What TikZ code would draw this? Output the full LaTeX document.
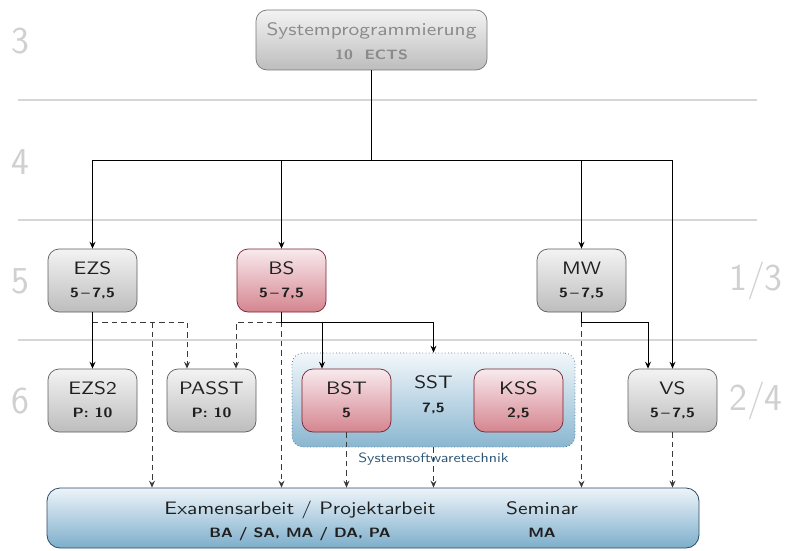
\documentclass[tikz,border=0pt]{standalone}
\usepackage{fontspec}
\setmainfont{lmsans10-regular.otf}[BoldFont=lmsans10-bold.otf, FakeStretch=1.19]
\newfontfamily\stagefont{lmsans17-regular.otf}
\usetikzlibrary{arrows.meta}

\definecolor{stageLine}{HTML}{D6D6D6}
\definecolor{stageText}{HTML}{D0D0D0}
\definecolor{grayTop}{HTML}{F3F3F3}
\definecolor{grayBot}{HTML}{BDBDBD}
\definecolor{grayEdge}{HTML}{5E5E5E}
\definecolor{redTop}{HTML}{F8EAED}
\definecolor{redBot}{HTML}{D5858F}
\definecolor{redEdge}{HTML}{7A2131}
\definecolor{blueTop}{HTML}{EDF4F9}
\definecolor{blueBot}{HTML}{7DAECB}
\definecolor{blueEdge}{HTML}{2A4B68}
\definecolor{sstEdge}{HTML}{56799A}
\definecolor{labelBlue}{HTML}{2D5676}
\definecolor{fadedText}{HTML}{8A8A8A}
\definecolor{fadedEdge}{HTML}{777777}
\definecolor{depLine}{HTML}{3A3A3A}

% one module box with its name and its credit points
\newcommand\modbox[6]{%
  \node[#4] (#1) at (#2,#3) {};
  \node[titletext] (#1-t) at ([yshift=6pt]#1.center) {#5};
  \node[subtext] (#1-s) at ([yshift=-17pt]#1.center) {#6};
}

\begin{document}
\begin{tikzpicture}[x=1pt,y=-1pt,
  stageline/.style={line width=2.6pt, draw=stageLine},
  stagenum/.style={text=stageText, font=\stagefont\fontsize{38}{40}\selectfont, inner sep=0pt},
  graybox/.style={draw=grayEdge, line width=0.7pt, rounded corners=11pt,
    top color=grayTop, bottom color=grayBot,
    minimum width=89pt, minimum height=63pt, inner sep=0pt},
  redbox/.style={graybox, draw=redEdge, top color=redTop, bottom color=redBot},
  titletext/.style={anchor=base, inner sep=0pt, text=black!88, font=\fontsize{18}{20}\selectfont},
  subtext/.style={anchor=base, inner sep=0pt, text=black!88, font=\fontsize{13.5}{15}\selectfont\bfseries},
  flow/.style={line width=0.9pt, draw=black, -{Stealth[length=7pt,width=6pt,inset=2.5pt]}},
  dep/.style={line width=0.9pt, draw=depLine, dash pattern=on 5.5pt off 4pt,
    -{Stealth[length=7pt,width=6pt,inset=2.5pt]}},
  depplain/.style={line width=0.9pt, draw=depLine, dash pattern=on 5.5pt off 4pt},
]
\useasboundingbox (0,0) rectangle (793,551);

% semester bands
\draw[stageline] (18,100) -- (757,100);
\draw[stageline] (18,220) -- (757,220);
\draw[stageline] (18,340) -- (757,340);
\node[stagenum] (s3) at (20,41) {3};
\node[stagenum] (s4) at (20,162) {4};
\node[stagenum] (s5) at (20,281) {5};
\node[stagenum] (s6) at (20,401) {6};
\node[stagenum] (s13) at (756,281) {1/3};
\node[stagenum] (s24) at (756,401) {2/4};

% base lecture
\node[graybox, draw=fadedEdge, minimum width=231pt, minimum height=60pt] (sp) at (371.5,40) {};
\node[titletext, text=fadedText] (sp-t) at ([yshift=4pt]sp.center) {Systemprogrammierung};
\node[subtext, text=fadedText] (sp-s) at ([yshift=-20pt]sp.center) {10~~ECTS};

% Systemsoftwaretechnik group
\node[draw=sstEdge, line width=0.8pt, dash pattern=on 0.8pt off 2.4pt, rounded corners=11pt,
  top color=blueTop!70!white, bottom color=blueBot!90!white,
  minimum width=283pt, minimum height=94pt, inner sep=0pt] (sst) at (433.5,400) {};
\node[titletext] (sst-t) at (433.5,388) {SST};
\node[subtext] (sst-s) at (433.5,412) {7,5};
\node[anchor=base, inner sep=0pt, text=labelBlue, font=\fontsize{13.4}{15}\selectfont]
  (sst-l) at (433.5,462) {Systemsoftwaretechnik};

% modules
\modbox{ezs}{92.5}{280.5}{graybox}{EZS}{5\,--\,7,5}
\modbox{bs}{281.5}{280.5}{redbox}{BS}{5\,--\,7,5}
\modbox{mw}{581.5}{280.5}{graybox}{MW}{5\,--\,7,5}
\modbox{ezstwo}{92.5}{400.5}{graybox}{EZS2}{P:~10}
\modbox{passt}{211.5}{400.5}{graybox}{PASST}{P:~10}
\modbox{bst}{346.5}{400.5}{redbox}{BST}{5}
\modbox{kss}{518.5}{400.5}{redbox}{KSS}{2,5}
\modbox{vs}{672.5}{400.5}{graybox}{VS}{5\,--\,7,5}

% theses and seminar
\node[draw=blueEdge, line width=0.8pt, rounded corners=13pt, top color=blueTop, bottom color=blueBot,
  minimum width=652pt, minimum height=60pt, inner sep=0pt] (exam) at (373,518) {};
\node[titletext] (exam-t) at (300,514) {Examensarbeit / Projektarbeit};
\node[subtext] (exam-s) at (300,537) {BA / SA, MA / DA, PA};
\node[titletext] (sem-t) at (542,514) {Seminar};
\node[subtext] (sem-s) at (542,537) {MA};

% junction points
\coordinate (spj) at (371.5,160);
\coordinate (ezsj) at (92.5,322);
\coordinate (ezsx) at (152,322);
\coordinate (bsj) at (281.5,322);
\coordinate (mwj) at (581.5,322);

% optional dependencies (dashed)
\draw[dep] (ezsj) -| ([xshift=-24.5pt]passt.north);
\draw[dep] (ezsx) -- (ezsx |- exam.north);
\draw[dep] (bsj) -| ([xshift=24.5pt]passt.north);
\draw[dep] (bs.south) -- (bs.south |- exam.north);
\draw[dep] (bst.south) -- (bst.south |- exam.north);
\draw[dep] (sst.south) -- (sst.south |- exam.north);
\draw[dep] (mw.south) -- (mw.south |- exam.north);
\draw[dep] (vs.south) -- (vs.south |- exam.north);

% prerequisites (solid)
\draw[flow] (sp.south) -- (spj) -| (ezs.north);
\draw[flow] (spj) -| (bs.north);
\draw[flow] (spj) -| (mw.north);
\draw[flow] (spj) -| (vs.north);
\draw[flow] (ezs.south) -- (ezstwo.north);
\draw[flow] (bs.south) -- (bsj) -| ([xshift=-24.5pt]bst.north);
\draw[flow] (bsj) -| (sst.north);
\draw[flow] (mw.south) -- (mwj) -| ([xshift=-24.5pt]vs.north);
\end{tikzpicture}
\end{document}
